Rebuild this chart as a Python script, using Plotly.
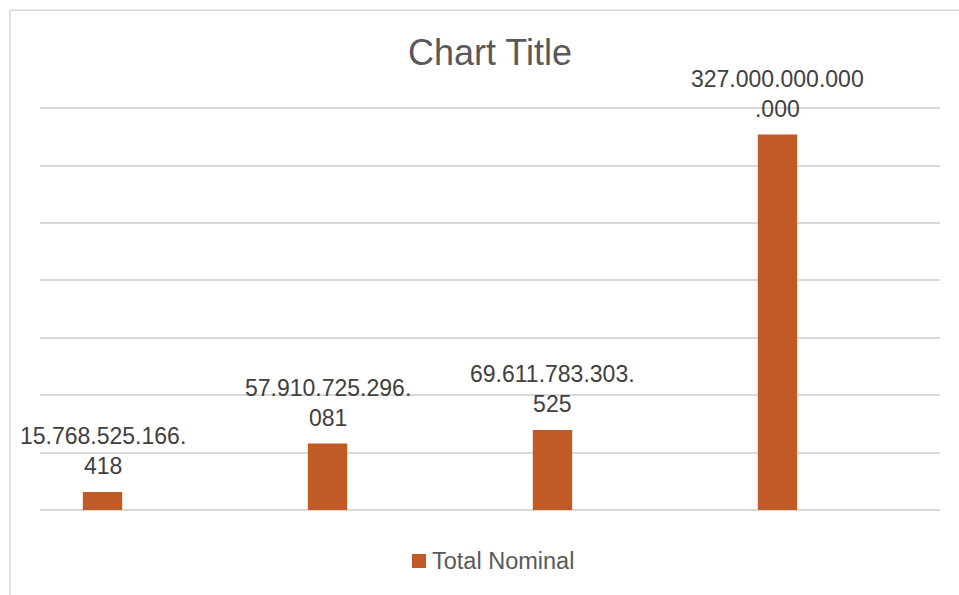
import plotly.graph_objects as go

categories = ["Kategori 1", "Kategori 2", "Kategori 3", "Kategori 4"]
values = [15768525166418, 57910725296081, 69611783303525, 327000000000000]
labels = ["15.768.525.166.<br>418", "57.910.725.296.<br>081",
          "69.611.783.303.<br>525", "327.000.000.000<br>.000"]
series_name = "Total Nominal"

W, H = 959, 595
YMAX = 351e12
ph_target = 402 * YMAX / 350e12
L, R, B = 40, 19, 85
T = round(H - B - ph_target, 2)
pw = W - L - R
ph = H - T - B

def px_to_paper_x(px):
    return (px - L) / pw

def px_to_paper_y(py):
    return (H - B - py) / ph

fig = go.Figure()
fig.add_trace(go.Bar(
    x=categories, y=values, name=series_name,
    marker=dict(color="#C05B28", line=dict(width=0)),
    width=0.175, showlegend=False,
))

for c, v, t in zip(categories, values, labels):
    fig.add_annotation(x=c, y=v, text=t, showarrow=False, yanchor="bottom",
                       yshift=11, font=dict(family="Liberation Sans, Arial", size=23, color="#404040"),
                       align="center")

# outer chart border
fig.add_shape(type="rect", xref="paper", yref="paper",
              x0=px_to_paper_x(10), x1=px_to_paper_x(W + 20),
              y0=px_to_paper_y(H + 20), y1=px_to_paper_y(10),
              line=dict(color="#D9D9D9", width=1.5), fillcolor="rgba(0,0,0,0)", layer="below")

# legend (swatch + text)
fig.add_shape(type="rect", xref="paper", yref="paper",
              x0=px_to_paper_x(412), x1=px_to_paper_x(426),
              y0=px_to_paper_y(568), y1=px_to_paper_y(554),
              line=dict(width=0), fillcolor="#C05B28")
fig.add_annotation(xref="paper", yref="paper", x=px_to_paper_x(430), y=px_to_paper_y(561),
                   xanchor="left", yanchor="middle", showarrow=False, text=series_name,
                   font=dict(family="Liberation Sans, Arial", size=23.5, color="#595959"))

fig.update_layout(
    width=W, height=H,
    margin=dict(l=L, r=R, t=T, b=B, pad=0),
    paper_bgcolor="white", plot_bgcolor="white",
    title=dict(text="Chart Title", x=490 / W, xanchor="center", xref="container",
               y=1 - 52 / H, yanchor="middle", yref="container",
               font=dict(family="Liberation Sans, Arial", size=36, color="#595959")),
    xaxis=dict(showticklabels=False, showgrid=False, zeroline=False, showline=False,
               range=[-62.5 / 225, 3 + 162.5 / 225]),
    yaxis=dict(range=[0, YMAX], dtick=50e12, showticklabels=False, showgrid=True,
               gridcolor="#D9D9D9", gridwidth=1.5, zeroline=True, zerolinecolor="#D9D9D9",
               zerolinewidth=1.5, showline=False),
    showlegend=False,
)

fig.write_html("out.html")
